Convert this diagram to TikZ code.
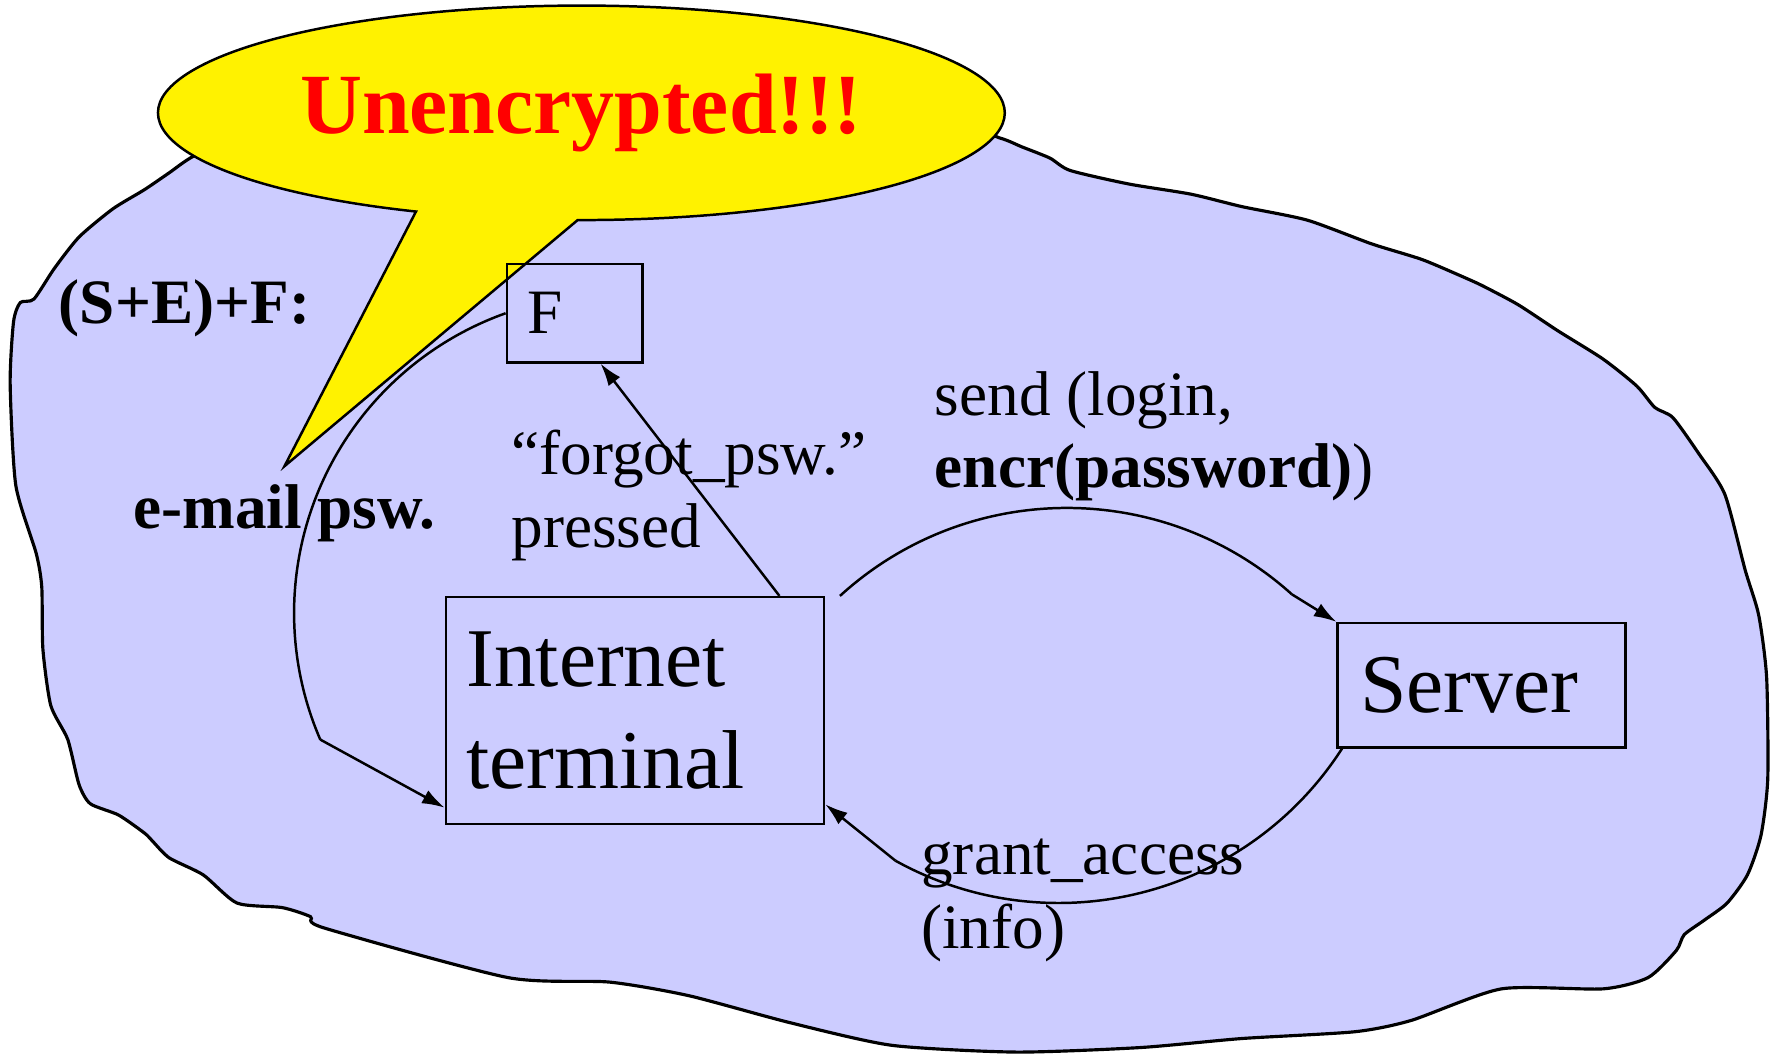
\documentclass[tikz,border=0pt]{standalone}
\usepackage{fontspec}
\setmainfont{Liberation Serif}
\usetikzlibrary{arrows.meta}
\definecolor{cloudblue}{RGB}{204,204,255}

\begin{document}
\begin{tikzpicture}[x=1pt, y=-1pt,
  box/.style={draw, line width=2.2pt, inner ysep=0pt, align=left},
  lbl/.style={inner sep=0pt, anchor=base west, align=left, font=\fontsize{56}{65}\selectfont},
  arr/.style={line width=2.2pt, -{Latex[length=20pt,width=13pt]}}]
\useasboundingbox (0,0) rectangle (1568,935);
% the cloud
\filldraw[fill=cloudblue, line width=2.8pt] plot[smooth cycle, tension=0.4] coordinates {
  (172,138) (150,153) (128,168) (100,185) (70,210) (48,238) (30,265) (18,268)
  (12,285) (9,340) (14,430) (32,490) (37,520) (38,575) (45,625) (60,655)
  (70,695) (80,712) (105,722) (128,738) (135,745) (150,760) (180,775) (210,800)
  (250,804) (275,812) (287,822) (450,866) (540,870) (610,882) (700,906) (790,926)
  (900,932) (1010,928) (1100,920) (1200,914) (1250,904) (1330,876) (1420,876) (1460,866)
  (1485,842) (1492,828) (1510,815) (1530,800) (1548,775) (1560,740) (1566,690) (1565,600)
  (1558,545) (1546,505) (1528,438) (1505,402) (1482,370) (1466,361) (1450,342) (1420,318)
  (1380,293) (1345,270) (1315,254) (1300,247) (1260,230) (1215,216) (1158,195) (1100,183)
  (1055,172) (1000,163) (948,151) (930,140) (905,130) (885,122) (820,105) (515,130) (230,110)};
% speech bubble
\filldraw[fill=yellow, line width=2.2pt] (368.5,187.4)
  arc[start angle=113, end angle=450.5, x radius=375, y radius=95] -- (252,413) -- cycle;
\node[anchor=base, inner sep=0pt, text=red, font=\fontsize{76}{80}\selectfont\bfseries] (warn) at (515,118) {Unencrypted!!!};
% boxes
\node[box, inner xsep=18pt, text width=84, minimum height=87, font=\fontsize{56}{65}\selectfont] (F) at (509,277.5) {F};
\node[box, inner xsep=18pt, text width=299, minimum height=201, font=\fontsize{74}{90}\selectfont] (IT) at (562.5,629.5) {Internet\\terminal};
\node[box, inner xsep=20pt, text width=215, minimum height=110, font=\fontsize{74}{90}\selectfont] (S) at (1312.5,607) {Server};
% labels
\node[lbl, font=\fontsize{56}{65}\selectfont\bfseries] (rule) at (52,287) {(S+E)+F:};
\node[lbl, font=\fontsize{56}{65}\selectfont\bfseries] (mail) at (118,468) {e-mail psw.};
\node[lbl] (forgot) at (453,485) {``forgot\_psw.''\\pressed};
\node[lbl, font=\fontsize{56}{64}\selectfont] (send) at (828,432) {send (login,\\\textbf{encr(password)})};
\node[lbl] (grant) at (816,840) {grant\_access\\(info)};
% connectors
\draw[arr] ([xshift=128pt]IT.north) -- ([xshift=23pt]F.south);
\draw[line width=2.2pt] (F.west) arc[start angle=-109.6, end angle=-203.4, radius=282] coordinate (mailend);
\draw[arr] (mailend) -- ([yshift=-86pt]IT.west);
\draw[line width=2.2pt] ([xshift=13pt]IT.north east) arc[start angle=-132.4, end angle=-48, radius=298] coordinate (sendend);
\draw[arr] (sendend) -- (S.north west);
\draw[line width=2.2pt] ([xshift=5pt]S.south west) arc[start angle=32.8, end angle=119, radius=298.5] coordinate (grantend);
\draw[arr] (grantend) -- ([yshift=-83pt]IT.east);
\end{tikzpicture}
\end{document}
